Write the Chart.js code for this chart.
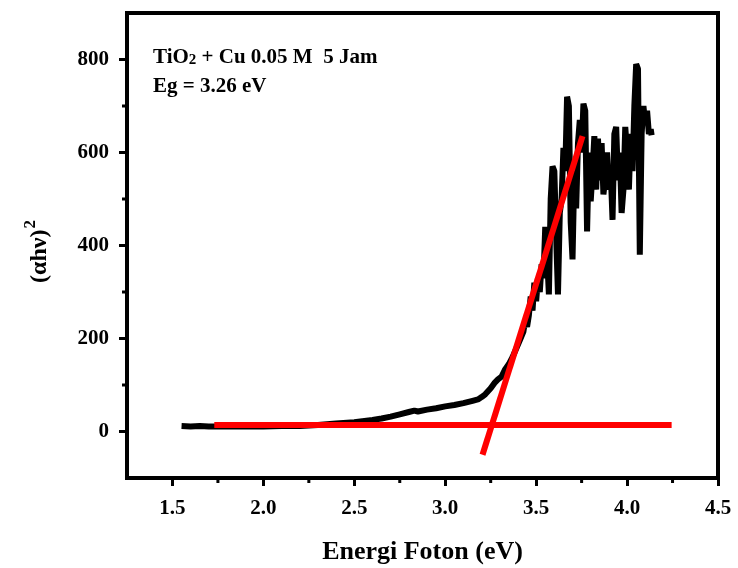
<!DOCTYPE html>
<html>
<head>
<meta charset="utf-8">
<script src="https://cdn.jsdelivr.net/npm/chart.js@4/dist/chart.umd.min.js"></script>
<style>
  body { margin: 0; background: #fff; }
  #wrap { width: 738px; height: 568px; position: relative; }
</style>
</head>
<body>
<div id="wrap"><canvas id="chart"></canvas></div>
<script>
// photon energy (eV) and (ahv)^2
const energy = [
  1.55, 1.60, 1.65, 1.70, 1.80, 1.90, 2.00, 2.10, 2.20, 2.30,
  2.40, 2.50, 2.60, 2.65, 2.70, 2.75, 2.80, 2.83, 2.85, 2.90,
  2.95, 3.00, 3.05, 3.10, 3.15, 3.18, 3.20, 3.22, 3.25, 3.27,
  3.29, 3.31, 3.33, 3.35, 3.37, 3.39, 3.41, 3.43, 3.44, 3.45,
  3.46, 3.47, 3.48, 3.49, 3.50, 3.51, 3.52, 3.53, 3.54, 3.55,
  3.56, 3.57, 3.58, 3.59, 3.60, 3.61, 3.62, 3.63, 3.64, 3.65,
  3.66, 3.67, 3.68, 3.69, 3.70, 3.71, 3.72, 3.73, 3.74, 3.75,
  3.76, 3.77, 3.78, 3.79, 3.80, 3.81, 3.82, 3.83, 3.84, 3.85,
  3.86, 3.87, 3.88, 3.89, 3.90, 3.91, 3.92, 3.93, 3.94, 3.95,
  3.96, 3.97, 3.98, 3.99, 4.00, 4.01, 4.02, 4.03, 4.04, 4.05,
  4.06, 4.07, 4.08, 4.09, 4.10, 4.11, 4.12, 4.13, 4.135
];
const absorb = [
  12, 11, 12, 11, 11, 11, 11, 12, 12, 14,
  17, 20, 25, 28, 32, 37, 42, 45, 43, 47,
  50, 54, 57, 61, 66, 69, 74, 80, 93, 104,
  112, 118, 134, 145, 160, 178, 196, 215, 240, 225,
  250, 290, 260, 320, 280, 330, 300, 360, 330, 440,
  380, 295, 500, 570, 560, 420, 295, 470, 500, 610,
  560, 720, 700, 450, 370, 560, 480, 620, 670, 600,
  705, 690, 430, 600, 495, 560, 635, 520, 630, 540,
  620, 510, 545, 600, 520, 560, 455, 640, 655, 540,
  600, 470, 520, 655, 600, 520, 640, 560, 700, 790,
  780, 380, 640, 700, 660, 690, 640, 650, 637
];

// fitted lines (Tauc extrapolation)
const baseX = [1.73, 4.245];
const baseY = [14, 14];
const fitX = [3.205, 3.755];
const fitY = [-50, 635];

const xMajor = [1.5, 2.0, 2.5, 3.0, 3.5, 4.0, 4.5];
const xMinor = [1.75, 2.25, 2.75, 3.25, 3.75, 4.25];
const yMajor = [0, 200, 400, 600, 800];
const yMinor = [100, 300, 500, 700];

const serif = '"Liberation Serif", "Times New Roman", serif';

const toPts = (xs, ys) => xs.map((x, i) => ({ x: x, y: ys[i] }));

const framePlugin = {
  id: 'frame',
  afterDraw(chart) {
    const ctx = chart.ctx;
    const a = chart.chartArea;
    const sx = chart.scales.x;
    const sy = chart.scales.y;
    ctx.save();
    ctx.strokeStyle = '#000';
    ctx.lineWidth = 4;
    ctx.strokeRect(a.left, a.top, a.right - a.left, a.bottom - a.top);
    // minor ticks
    ctx.lineWidth = 3;
    ctx.beginPath();
    xMinor.forEach(v => {
      const px = sx.getPixelForValue(v);
      ctx.moveTo(px, a.bottom);
      ctx.lineTo(px, a.bottom + 5);
    });
    yMinor.forEach(v => {
      const py = sy.getPixelForValue(v);
      ctx.moveTo(a.left, py);
      ctx.lineTo(a.left - 5, py);
    });
    ctx.stroke();
    // annotation text
    ctx.fillStyle = '#000';
    ctx.textBaseline = 'alphabetic';
    ctx.font = 'bold 21px ' + serif;
    let x0 = a.left + 26;
    ctx.fillText('TiO', x0, 63);
    x0 += ctx.measureText('TiO').width;
    ctx.font = 'bold 15px ' + serif;
    ctx.fillText('2', x0, 64);
    x0 += ctx.measureText('2').width;
    ctx.font = 'bold 21px ' + serif;
    ctx.fillText(' + Cu 0.05 M  5 Jam', x0, 63);
    ctx.fillText('Eg = 3.26 eV', a.left + 26, 92);
    // y axis title with raised 2
    ctx.translate(46, 252);
    ctx.rotate(-Math.PI / 2);
    ctx.font = 'bold 24px ' + serif;
    const main = '(αhν)';
    const wMain = ctx.measureText(main).width;
    ctx.font = 'bold 17px ' + serif;
    const wSup = ctx.measureText('2').width;
    const start = -(wMain + wSup) / 2;
    ctx.font = 'bold 24px ' + serif;
    ctx.fillText(main, start, 0);
    ctx.font = 'bold 17px ' + serif;
    ctx.fillText('2', start + wMain + 1, -11);
    ctx.restore();
  }
};

new Chart(document.getElementById('chart'), {
  type: 'scatter',
  data: {
    datasets: [
      {
        label: 'baseline',
        data: toPts(baseX, baseY),
        showLine: true,
        borderColor: '#ff0000',
        borderWidth: 6,
        pointRadius: 0,
        order: 0
      },
      {
        label: 'fit',
        data: toPts(fitX, fitY),
        showLine: true,
        borderColor: '#ff0000',
        borderWidth: 6,
        pointRadius: 0,
        order: 0
      },
      {
        label: 'TiO2 + Cu',
        data: toPts(energy, absorb),
        showLine: true,
        borderColor: '#000',
        borderWidth: 6,
        borderJoinStyle: 'bevel',
        pointRadius: 0,
        tension: 0,
        order: 1
      }
    ]
  },
  options: {
    responsive: true,
    maintainAspectRatio: false,
    animation: false,
    layout: { padding: { top: 13, right: 20, left: 0, bottom: 0 } },
    plugins: {
      legend: { display: false },
      tooltip: { enabled: false }
    },
    scales: {
      x: {
        type: 'linear',
        min: 1.25,
        max: 4.5,
        afterFit: s => { s.height = 90; s.paddingLeft = 0; s.paddingRight = 0; },
        afterBuildTicks: s => { s.ticks = xMajor.map(v => ({ value: v })); },
        border: { display: false },
        grid: { drawOnChartArea: false, drawTicks: true, tickLength: 8, tickWidth: 3, tickColor: '#000' },
        ticks: {
          padding: 10,
          color: '#000',
          font: { family: serif, size: 21, weight: 'bold' },
          callback: v => v.toFixed(1)
        },
        title: {
          display: true,
          text: 'Energi Foton (eV)',
          color: '#000',
          font: { family: serif, size: 26, weight: 'bold' },
          padding: { top: 0, bottom: 0 }
        }
      },
      y: {
        type: 'linear',
        min: -100,
        max: 900,
        afterFit: s => { s.width = 127; s.paddingTop = 0; s.paddingBottom = 0; },
        afterBuildTicks: s => { s.ticks = yMajor.map(v => ({ value: v })); },
        border: { display: false },
        grid: { drawOnChartArea: false, drawTicks: true, tickLength: 8, tickWidth: 3, tickColor: '#000' },
        ticks: {
          padding: 10,
          color: '#000',
          font: { family: serif, size: 21, weight: 'bold' }
        },
        title: { display: false }
      }
    }
  },
  plugins: [framePlugin]
});
</script>
</body>
</html>
